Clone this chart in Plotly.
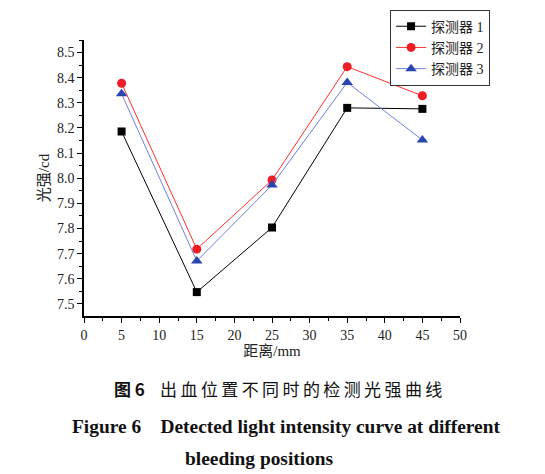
import plotly.graph_objects as go

distance = [5, 15, 25, 35, 45]
detector1 = [8.186, 7.547, 7.804, 8.280, 8.276]
detector2 = [8.378, 7.718, 7.993, 8.444, 8.328]
detector3 = [8.336, 7.671, 7.973, 8.381, 8.152]
series_names = ["探测器 1", "探测器 2", "探测器 3"]
caption_cn = "出血位置不同时的检测光强曲线"

serif = "Liberation Serif, Times New Roman, Noto Sans CJK SC, serif"

fig = go.Figure()
fig.add_trace(go.Scatter(x=distance, y=detector1, name=series_names[0], mode="lines+markers",
                         line=dict(color="#000000", width=1),
                         marker=dict(symbol="square", size=8, color="#000000")))
fig.add_trace(go.Scatter(x=distance, y=detector2, name=series_names[1], mode="lines+markers",
                         line=dict(color="#ff3030", width=1),
                         marker=dict(symbol="circle", size=9, color="#ee1c24")))
fig.add_trace(go.Scatter(x=distance, y=detector3, name=series_names[2], mode="lines+markers",
                         line=dict(color="#7080e0", width=1),
                         marker=dict(symbol="triangle-up", size=10, color="#2a45b0")))

# page body has an 8px default margin, so the figure is offset by 8px
fig.update_layout(
    width=537, height=466,
    margin=dict(l=76, r=85, t=32, b=158, autoexpand=False),
    paper_bgcolor="white", plot_bgcolor="white",
    font=dict(family=serif, size=14, color="#222222"),
    showlegend=True,
    legend=dict(x=1.08, y=1.11, xanchor="right", yanchor="top",
                bordercolor="#333333", borderwidth=1, bgcolor="white",
                font=dict(family=serif, size=14, color="#222222"),
                tracegroupgap=0, itemwidth=30),
    xaxis=dict(range=[0, 50], tickvals=[0, 5, 10, 15, 20, 25, 30, 35, 40, 45, 50],
               showline=True, linecolor="#000000", linewidth=1.5,
               ticks="outside", ticklen=5, tickcolor="#000000",
               minor=dict(dtick=2.5, ticks="outside", ticklen=3, tickcolor="#000000"),
               showgrid=False, zeroline=False, automargin=False,
               title=dict(text="距离/mm", standoff=4, font=dict(size=15))),
    yaxis=dict(range=[7.452, 8.55], tickvals=[7.5, 7.6, 7.7, 7.8, 7.9, 8.0, 8.1, 8.2, 8.3, 8.4, 8.5],
               tickformat=".1f",
               showline=True, linecolor="#000000", linewidth=1.5,
               ticks="outside", ticklen=5, tickcolor="#000000",
               minor=dict(dtick=0.05, ticks="outside", ticklen=3, tickcolor="#000000"),
               showgrid=False, zeroline=False, automargin=False,
               title=dict(text="光强/cd", standoff=4, font=dict(size=15))),
)

cap_font_cn = dict(family="Noto Sans CJK SC, sans-serif", size=17, color="#111111")
cap_font_en = dict(family="Liberation Serif, Times New Roman, serif", size=19.4, color="#111111")
spaced_cn = "\u2009".join(caption_cn)
fig.add_annotation(text="<b>图 6</b>    " + spaced_cn, xref="paper", yref="paper",
                   x=(112 - 84) / 376, y=(316 - 388) / 276, xanchor="left", yanchor="middle",
                   showarrow=False, font=cap_font_cn)
fig.add_annotation(text="<b>Figure 6    Detected light intensity curve at different</b>", xref="paper", yref="paper",
                   x=(70 - 84) / 376, y=(316 - 426) / 276, xanchor="left", yanchor="middle",
                   showarrow=False, font=cap_font_en)
fig.add_annotation(text="<b>bleeding positions</b>", xref="paper", yref="paper",
                   x=(183 - 84) / 376, y=(316 - 459) / 276, xanchor="left", yanchor="middle",
                   showarrow=False, font=cap_font_en)

fig.write_html("out.html")
